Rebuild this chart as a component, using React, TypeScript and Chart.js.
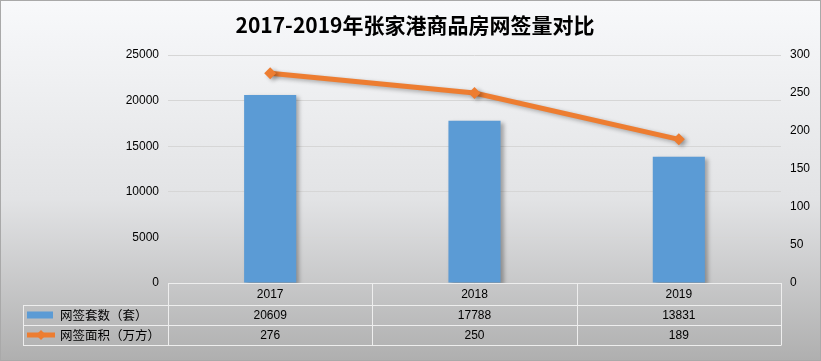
import React, { useEffect, useRef } from "react";
import { Chart, registerables } from "chart.js";

Chart.register(...registerables);

const TITLE = "2017-2019年张家港商品房网签量对比";
const categories = ["2017", "2018", "2019"];
const seriesNames = ["网签套数（套）", "网签面积（万方）"];
const unitsSold = [20609, 17788, 13831];
const areaSold = [276, 250, 189];
const leftTicks = [0, 5000, 10000, 15000, 20000, 25000];
const rightTicks = [0, 50, 100, 150, 200, 250, 300];

const BAR_COLOR = "#5B9BD5";
const LINE_COLOR = "#ED7D31";
const NUM_FONT = "'Liberation Sans', 'Noto Sans CJK SC', sans-serif";
const CJK_FONT = "'Noto Sans CJK SC', sans-serif";

const W = 821;
const H = 361;

const bgPlugin = {
  id: "bg",
  beforeDraw(chart: any) {
    const ctx = chart.ctx;
    const g = ctx.createLinearGradient(0, 0, 0, H);
    g.addColorStop(0, "#f8f9fb");
    g.addColorStop(0.55, "#e2e3e5");
    g.addColorStop(1, "#afafaf");
    ctx.save();
    ctx.fillStyle = g;
    ctx.fillRect(0, 0, W, H);
    ctx.strokeStyle = "#a9a9a9";
    ctx.lineWidth = 1;
    ctx.strokeRect(0.5, 0.5, W - 1, H - 1);
    ctx.fillStyle = "#000";
    ctx.font = `bold 21px ${CJK_FONT}`;
    ctx.textAlign = "center";
    ctx.textBaseline = "middle";
    ctx.fillText(TITLE, 415, 25);
    ctx.restore();
  },
};

const shadowPlugin = {
  id: "shadow",
  beforeDatasetDraw(chart: any) {
    const ctx = chart.ctx;
    ctx.save();
    ctx.shadowColor = "rgba(0,0,0,0.3)";
    ctx.shadowBlur = 4;
    ctx.shadowOffsetX = 3;
    ctx.shadowOffsetY = 2;
  },
  afterDatasetDraw(chart: any) {
    chart.ctx.restore();
  },
};

const tablePlugin = {
  id: "dataTable",
  afterDraw(chart: any) {
    const ctx = chart.ctx;
    const xs = chart.scales.x;
    const area = chart.chartArea;
    const left = area.left;
    const right = area.right;
    const n = categories.length;
    const colW = (right - left) / n;
    const top = area.bottom;
    const headerBottom = top + 22;
    const rowH = 20;
    const legendLeft = 23;
    const rows = [unitsSold, areaSold];
    ctx.save();
    ctx.strokeStyle = "#eeeeee";
    ctx.lineWidth = 1;
    ctx.beginPath();
    ctx.moveTo(left, Math.round(top) + 0.5);
    ctx.lineTo(right, Math.round(top) + 0.5);
    for (let r = 0; r <= rows.length; r++) {
      const y = Math.round(headerBottom + r * rowH) + 0.5;
      ctx.moveTo(legendLeft, y);
      ctx.lineTo(right, y);
    }
    const bottom = Math.round(headerBottom + rows.length * rowH) + 0.5;
    ctx.moveTo(legendLeft + 0.5, Math.round(headerBottom) + 0.5);
    ctx.lineTo(legendLeft + 0.5, bottom);
    for (let i = 0; i <= n; i++) {
      const x = Math.round(left + i * colW) + 0.5;
      ctx.moveTo(x, top);
      ctx.lineTo(x, bottom);
    }
    ctx.stroke();

    ctx.textBaseline = "middle";
    ctx.fillStyle = "#000";
    ctx.textAlign = "center";
    ctx.font = `12px ${NUM_FONT}`;
    categories.forEach((c, i) => {
      ctx.fillText(c, xs.getPixelForValue(i), top + 11.5);
    });

    rows.forEach((vals, r) => {
      const cy = headerBottom + r * rowH + rowH / 2;
      if (r === 0) {
        ctx.fillStyle = BAR_COLOR;
        ctx.fillRect(27, cy - 3.5, 26, 7);
      } else {
        ctx.strokeStyle = LINE_COLOR;
        ctx.lineWidth = 5;
        ctx.beginPath();
        ctx.moveTo(27, cy);
        ctx.lineTo(55, cy);
        ctx.stroke();
        ctx.fillStyle = LINE_COLOR;
        ctx.beginPath();
        ctx.moveTo(41, cy - 5);
        ctx.lineTo(46, cy);
        ctx.lineTo(41, cy + 5);
        ctx.lineTo(36, cy);
        ctx.closePath();
        ctx.fill();
      }
      ctx.fillStyle = "#000";
      ctx.textAlign = "left";
      ctx.font = `12.5px ${CJK_FONT}`;
      ctx.fillText(seriesNames[r], 60, cy + 0.5);
      ctx.textAlign = "center";
      ctx.font = `12px ${NUM_FONT}`;
      vals.forEach((v, i) => {
        ctx.fillText(String(v), xs.getPixelForValue(i), cy + 0.5);
      });
    });
    ctx.restore();
  },
};

export default function App() {
  const ref = useRef<HTMLCanvasElement>(null);
  useEffect(() => {
    document.body.style.margin = "0";
    const chart = new Chart(ref.current!, {
      type: "bar",
      data: {
        labels: categories,
        datasets: [
          {
            type: "line",
            label: seriesNames[1],
            data: areaSold,
            yAxisID: "y1",
            borderColor: LINE_COLOR,
            backgroundColor: LINE_COLOR,
            borderWidth: 5,
            pointStyle: "rectRot",
            pointRadius: 6,
            pointHoverRadius: 6,
            pointBorderWidth: 0,
            tension: 0,
            order: 0,
          } as any,
          {
            type: "bar",
            label: seriesNames[0],
            data: unitsSold,
            yAxisID: "y",
            backgroundColor: BAR_COLOR,
            categoryPercentage: 1,
            barPercentage: 0.255,
            order: 1,
          },
        ],
      },
      options: {
        responsive: false,
        animation: false,
        devicePixelRatio: 1,
        layout: { padding: { top: 55, bottom: 56, left: 0, right: 0 } },
        plugins: {
          legend: { display: false },
          title: { display: false },
          tooltip: { enabled: false },
        },
        scales: {
          x: {
            offset: true,
            grid: { display: false, drawTicks: false },
            border: { display: false },
            ticks: { display: false },
            afterFit: (s: any) => {
              s.height = 22;
            },
          },
          y: {
            position: "left",
            min: 0,
            max: 25000,
            afterBuildTicks: (s: any) => {
              s.ticks = leftTicks.map((v) => ({ value: v }));
            },
            grid: { color: "#d6d6d6", drawTicks: false },
            border: { display: false },
            ticks: {
              color: "#000",
              font: { family: NUM_FONT, size: 12 },
              padding: 9,
              callback: (v: any) => String(v),
            },
            afterFit: (s: any) => {
              s.width = 168;
            },
          },
          y1: {
            position: "right",
            min: 0,
            max: 300,
            afterBuildTicks: (s: any) => {
              s.ticks = rightTicks.map((v) => ({ value: v }));
            },
            grid: { display: false, drawTicks: false },
            border: { display: false },
            ticks: {
              color: "#000",
              font: { family: NUM_FONT, size: 12 },
              padding: 9,
              callback: (v: any) => String(v),
            },
            afterFit: (s: any) => {
              s.width = 40;
            },
          },
        },
      },
      plugins: [bgPlugin, shadowPlugin, tablePlugin],
    });
    return () => chart.destroy();
  }, []);
  return (
    <div style={{ position: "fixed", left: 0, top: 0, width: W, height: H }}>
      <canvas ref={ref} width={W} height={H} style={{ width: W, height: H }} />
    </div>
  );
}
